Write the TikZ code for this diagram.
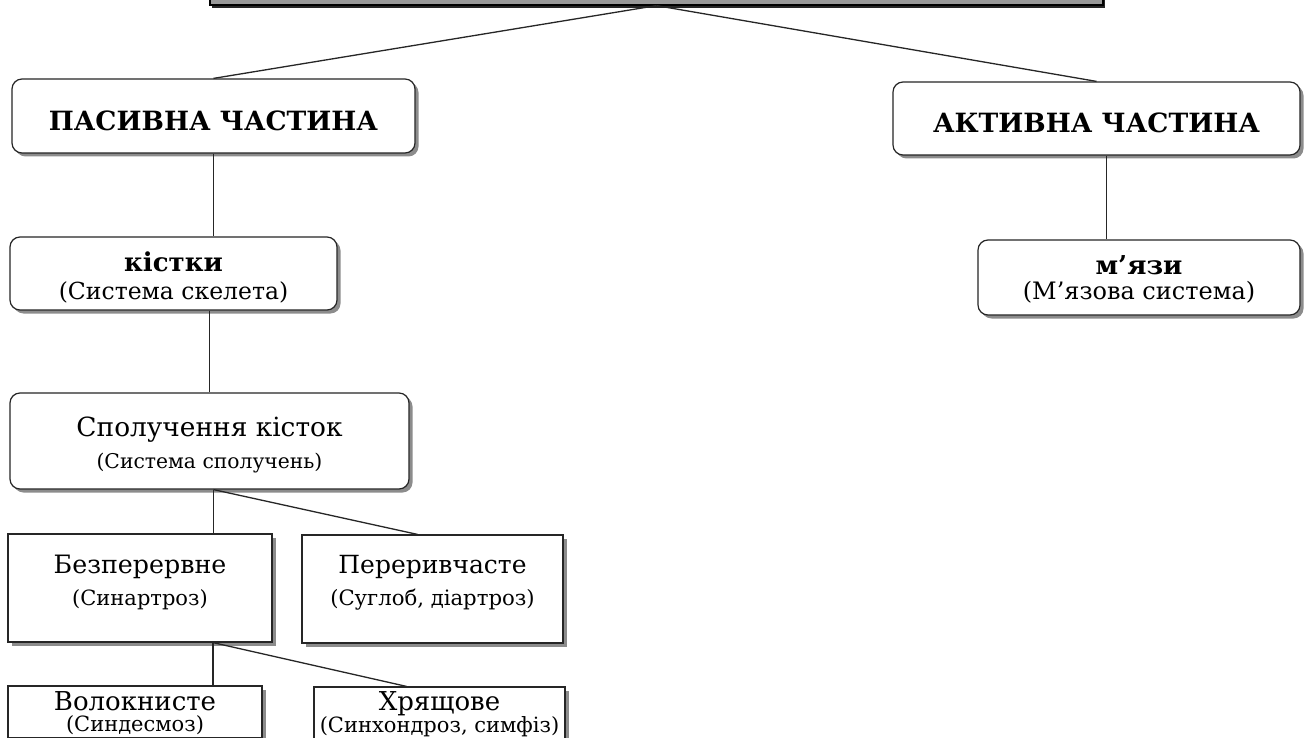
\documentclass[tikz,border=0pt]{standalone}
\usepackage{fontspec}
\setmainfont{DejaVu Serif}
\usetikzlibrary{shadows}
\begin{document}
\begin{tikzpicture}[x=1pt,y=-1pt,
  boxbase/.style={draw=black!85, line width=1.2pt, fill=white, inner sep=0pt,
    drop shadow={shadow xshift=3.5pt, shadow yshift=-3.5pt, fill=black!45, opacity=1}},
  rbox/.style={boxbase, rounded corners=10pt},
  sbox/.style={boxbase},
  topbox/.style={draw=black, line width=1.2pt, fill=black!40, inner sep=0pt,
    drop shadow={shadow xshift=2pt, shadow yshift=-3pt, fill=black!85, opacity=1}},
  conn/.style={draw=black!85, line width=1.3pt},
  lbl/.style={inner sep=0pt, align=center},
]
\useasboundingbox (0,0) rectangle (1306,738);
\clip (0,0) rectangle (1306,738);
\fill[white] (0,0) rectangle (1306,738);

\node[topbox, minimum width=893pt, minimum height=45pt] (top) at (656.5,-17.5) {};

% boxes
\node[rbox, minimum width=403pt, minimum height=74pt] (passive) at (213.5,116) {};
\node[rbox, minimum width=407pt, minimum height=73pt] (active) at (1096.5,118.5) {};
\node[rbox, minimum width=327pt, minimum height=73pt] (bones) at (173.5,273.5) {};
\node[rbox, minimum width=322pt, minimum height=75pt] (muscles) at (1139,277.5) {};
\node[rbox, minimum width=399pt, minimum height=96pt] (joints) at (209.5,441) {};
\node[sbox, minimum width=264pt, minimum height=108pt] (cont) at (140,588) {};
\node[sbox, minimum width=261pt, minimum height=108pt] (disc) at (432.5,589) {};
\node[sbox, minimum width=254pt, minimum height=52pt] (fib) at (135,712) {};
\node[sbox, minimum width=251pt, minimum height=52pt] (cart) at (439.5,713) {};

% texts
\node[lbl, font=\fontsize{26.5}{30}\selectfont\bfseries] (passive-t) at ([yshift=-5pt]passive.center) {ПАСИВНА ЧАСТИНА};
\node[lbl, font=\fontsize{26.5}{30}\selectfont\bfseries] (active-t) at ([yshift=-4pt]active.center) {АКТИВНА ЧАСТИНА};
\node[lbl, font=\fontsize{23.5}{28}\selectfont] (bones-t) at ([yshift=-4pt]bones.center)
  {{\fontsize{26}{28}\selectfont\bfseries кістки}\\(Система скелета)};
\node[lbl, font=\fontsize{24}{25}\selectfont] (muscles-t) at ([yshift=-2pt]muscles.center)
  {{\fontsize{26}{25}\selectfont\bfseries м’язи}\\(М’язова система)};
\node[lbl, font=\fontsize{20.3}{32}\selectfont] (joints-t) at ([yshift=-4pt]joints.center)
  {{\fontsize{26.4}{32}\selectfont Сполучення кісток}\\(Система сполучень)};
\node[lbl, font=\fontsize{21}{32}\selectfont] (cont-t) at ([yshift=6pt]cont.center)
  {{\fontsize{25.3}{32}\selectfont Безперервне}\\(Синартроз)};
\node[lbl, font=\fontsize{21.2}{32}\selectfont] (disc-t) at ([yshift=6pt]disc.center)
  {{\fontsize{25}{32}\selectfont Переривчасте}\\(Суглоб, діартроз)};
\node[lbl, font=\fontsize{21}{21}\selectfont] (fib-t) at ([yshift=-1pt]fib.center)
  {{\fontsize{26}{21}\selectfont Волокнисте}\\(Синдесмоз)};
\node[lbl, font=\fontsize{21}{21}\selectfont] (cart-t) at ([yshift=-1pt]cart.center)
  {{\fontsize{26}{21}\selectfont Хрящове}\\(Синхондроз, симфіз)};

% connectors
\draw[conn] (top.south) -- (passive.north);
\draw[conn] (top.south) -- (active.north);
\draw[conn] (passive.south) -- (passive.south |- bones.north);
\draw[conn] ([xshift=10pt]active.south) -- ([xshift=10pt]active.south |- muscles.north);
\draw[conn] (joints.north |- bones.south) -- (joints.north);
\draw[conn] ([xshift=4pt]joints.south) -- ([xshift=4pt]joints.south |- cont.north);
\draw[conn] ([xshift=4pt]joints.south) -- ([xshift=-15pt]disc.north);
\draw[conn] ([xshift=73pt]cont.south) -- ([xshift=73pt]cont.south |- fib.north);
\draw[conn] ([xshift=73pt]cont.south) -- ([xshift=-33pt]cart.north);
\end{tikzpicture}
\end{document}
